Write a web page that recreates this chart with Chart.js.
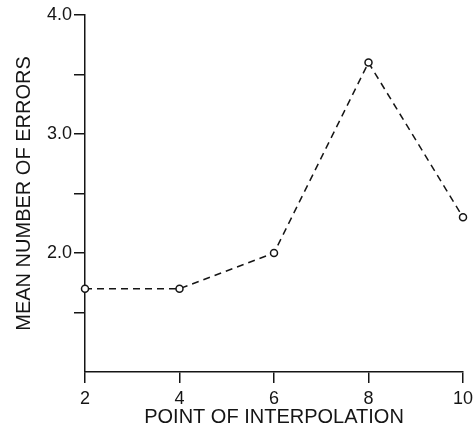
<!DOCTYPE html>
<html>
<head>
<meta charset="utf-8">
<script src="https://cdn.jsdelivr.net/npm/chart.js@4.4.1/dist/chart.umd.min.js"></script>
<style>
  html, body { margin: 0; padding: 0; background: #fff; }
  #wrap { width: 474px; height: 432px; }
</style>
</head>
<body>
<div id="wrap"><canvas id="chart" width="474" height="432"></canvas></div>
<script>
// values
const interpolationPoints = [2, 4, 6, 8, 10];
const meanErrors = [1.7, 1.7, 2.0, 3.6, 2.3];
const yLabelledTicks = [2, 3, 4];

const ink = '#151515';

const ctx = document.getElementById('chart').getContext('2d');
const chart = new Chart(ctx, {
    type: 'line',
    data: {
        datasets: [{
            label: 'Mean number of errors',
            data: interpolationPoints.map((p, i) => ({ x: p, y: meanErrors[i] })),
            borderColor: ink,
            borderWidth: 1.5,
            borderDash: [7, 5],
            pointRadius: 3.5,
            pointBorderWidth: 1.5,
            pointBackgroundColor: '#fff',
            pointBorderColor: ink,
            fill: false,
            tension: 0,
            clip: false
        }]
    },
    options: {
        responsive: false,
        animation: false,
        events: [],
        layout: { padding: { top: 15, right: 4, left: 0, bottom: 0 } },
        plugins: {
            legend: { display: false },
            tooltip: { enabled: false }
        },
        scales: {
            x: {
                type: 'linear',
                min: 2,
                max: 10,
                afterFit: s => { s.height = 60; s.paddingRight = 11; },
                ticks: {
                    stepSize: 2,
                    color: ink,
                    padding: 5,
                    font: { family: 'Liberation Sans', size: 18 },
                    maxRotation: 0
                },
                grid: {
                    drawOnChartArea: false,
                    drawTicks: true,
                    tickLength: 11,
                    color: ink,
                    lineWidth: 1.5
                },
                border: { display: true, color: ink, width: 1.5 },
                title: {
                    display: true,
                    text: 'POINT OF INTERPOLATION',
                    color: ink,
                    font: { family: 'Liberation Sans', size: 20 },
                    padding: { top: 0, bottom: 3 }
                }
            },
            y: {
                min: 1,
                max: 4,
                afterFit: s => { s.width = 85; },
                ticks: {
                    stepSize: 0.5,
                    color: ink,
                    padding: 2,
                    font: { family: 'Liberation Sans', size: 18 },
                    callback: v => yLabelledTicks.includes(v) ? v.toFixed(1) : ''
                },
                grid: {
                    drawOnChartArea: false,
                    drawTicks: true,
                    tickLength: 11,
                    color: c => (c.tick && c.tick.value === 1) ? 'rgba(0,0,0,0)' : ink,
                    lineWidth: 1.5
                },
                border: { display: true, color: ink, width: 1.5 },
                title: {
                    display: true,
                    text: 'MEAN NUMBER OF ERRORS',
                    color: ink,
                    font: { family: 'Liberation Sans', size: 20 },
                    padding: { top: 12, bottom: 0 }
                }
            }
        }
    }
});
</script>
</body>
</html>
